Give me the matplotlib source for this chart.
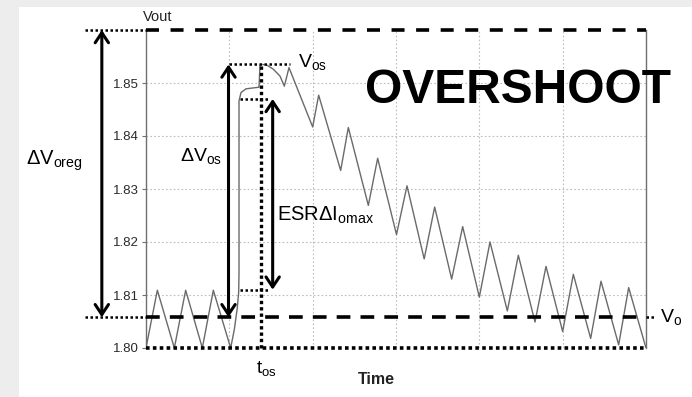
import matplotlib
matplotlib.use("Agg")
import matplotlib.pyplot as plt
from matplotlib.patches import Rectangle

plt.rcParams['font.family'] = ['Liberation Sans', 'DejaVu Sans']

# ── data ──────────────────────────────────────────────────────────────────────
t_wave = [0.0, 0.136, 0.340, 0.476, 0.676, 0.808, 1.016, 1.06, 1.095, 1.112, 1.116,
          1.116, 1.14, 1.20, 1.30, 1.356, 1.368, 1.392, 1.448, 1.528, 1.608, 1.660,
          1.716, 2.000, 2.072, 2.336, 2.428, 2.668, 2.780, 3.006, 3.132, 3.338,
          3.464, 3.668, 3.800, 4.000, 4.128, 4.336, 4.468, 4.668, 4.800, 5.000,
          5.128, 5.336, 5.460, 5.672, 5.792, 6.000]
v_wave = [1.8000, 1.8109, 1.8000, 1.8109, 1.8000, 1.8109, 1.8000, 1.8035, 1.8075,
          1.8105, 1.8140, 1.8466, 1.8482, 1.8489, 1.8491, 1.8492, 1.8534, 1.8535,
          1.8534, 1.8526, 1.8513, 1.8494, 1.8529, 1.8417, 1.8477, 1.8335, 1.8416,
          1.8269, 1.8358, 1.8214, 1.8306, 1.8168, 1.8266, 1.8130, 1.8229, 1.8096,
          1.8200, 1.8070, 1.8175, 1.8049, 1.8154, 1.8031, 1.8139, 1.8018, 1.8126,
          1.8006, 1.8114, 1.8000]

y_ticks = [1.80, 1.81, 1.82, 1.83, 1.84, 1.85]
x_grid = [1, 2, 3, 4, 5]

V_TOP = 1.86       # upper regulation limit
V_O = 1.8058       # nominal output
V_OS = 1.8535      # overshoot peak
V_ESR_TOP = 1.847
V_ESR_BOT = 1.811
T_OS = 1.38
T_START = 1.0

GRID = "#bdbdbd"
TRACE = "#6a6a6a"

fig = plt.figure(figsize=(6.92, 3.97), dpi=100, facecolor="#ededed")
fig.patches.append(Rectangle((19 / 692, 0), 1, 1 - 7 / 397, transform=fig.transFigure,
                             facecolor="white", edgecolor="none", zorder=-10))
ax = fig.add_axes([146 / 692, 1 - 348 / 397, 500 / 692, 318 / 397])
ax.set_facecolor("white")
ax.set_xlim(0, 6)
ax.set_ylim(1.80, 1.86)

for g in x_grid:
    ax.axvline(g, color=GRID, lw=0.8, ls=(0, (1.5, 2)), zorder=1)
for g in y_ticks[1:]:
    ax.axhline(g, color=GRID, lw=0.8, ls=(0, (1.5, 2)), zorder=1)

ax.plot(t_wave, v_wave, color=TRACE, lw=1.0, zorder=3)

# spines / ticks
for s in ("top", "bottom"):
    ax.spines[s].set_visible(False)
for s in ("left", "right"):
    ax.spines[s].set_color("#6f6f6f")
    ax.spines[s].set_linewidth(1.0)
ax.set_xticks([])
ax.set_yticks(y_ticks)
ax.set_yticklabels(["%.2f" % v for v in y_ticks], fontsize=9.5, color="#2a2a2a")
ax.tick_params(axis="y", length=3, color="#6f6f6f", pad=2)

# thick reference lines
ax.plot([0, 6], [V_TOP, V_TOP], color="black", lw=2.6, ls=(0, (3.6, 3.2)),
        clip_on=False, zorder=4, solid_capstyle="butt")
ax.plot([0, 6], [V_O, V_O], color="black", lw=2.6, ls=(0, (3.8, 2.8)),
        clip_on=False, zorder=4)
ax.plot([0, 6], [1.80, 1.80], color="black", lw=2.6, ls=(0, (1, 0.9)),
        clip_on=False, zorder=4)
ax.plot([T_OS, T_OS], [1.80, V_OS], color="black", lw=2.4, ls=(0, (1, 0.9)),
        clip_on=False, zorder=4)

# thin dotted extensions
dot = dict(color="black", lw=1.8, ls=(0, (1, 1)), clip_on=False, zorder=4)
ax.plot([-0.73, 0], [V_TOP, V_TOP], **dot)
ax.plot([-0.73, 0], [V_O, V_O], **dot)
ax.plot([6, 6.1], [V_O, V_O], **dot)
ax.plot([T_START, 1.73], [V_OS, V_OS], **dot)
ax.plot([1.13, 1.49], [V_ESR_TOP, V_ESR_TOP], **dot)
ax.plot([1.13, 1.49], [V_ESR_BOT, V_ESR_BOT], **dot)

# double arrows
arr = dict(arrowstyle="<->,head_length=0.45,head_width=0.3", lw=2.2, color="black",
           mutation_scale=16, shrinkA=0, shrinkB=0)
ax.annotate("", xy=(-0.53, V_TOP), xytext=(-0.53, V_O), arrowprops=arr,
            annotation_clip=False)
ax.annotate("", xy=(0.99, V_OS), xytext=(0.99, V_O), arrowprops=arr,
            annotation_clip=False)
ax.annotate("", xy=(1.52, V_ESR_TOP), xytext=(1.52, V_ESR_BOT), arrowprops=arr,
            annotation_clip=False)

# labels
txt = dict(clip_on=False, zorder=5)
ax.text(0.144, 1.8624, "Vout", fontsize=10.5, ha="center", va="center", color="#222222", **txt)
ax.text(2.76, 1.7940, "Time", fontsize=11.5, fontweight="bold", ha="center", va="center",
        color="#222222", **txt)
ax.text(1.45, 1.7962, r"$\mathregular{t_{os}}$", fontsize=13.5, ha="center", va="center", **txt)
ax.text(6.17, 1.8058, r"$\mathregular{V_{o}}$", fontsize=14, ha="left", va="center", **txt)
ax.text(1.82, 1.8540, r"$\mathregular{V_{os}}$", fontsize=14, ha="left", va="center", **txt)
ax.text(0.66, 1.8363, r"$\mathregular{\Delta V_{os}}$", fontsize=14, ha="center",
        va="center", **txt)
ax.text(-1.10, 1.8353, r"$\mathregular{\Delta V_{oreg}}$", fontsize=14.5, ha="center",
        va="center", **txt)
ax.text(1.57, 1.8250, r"$\mathregular{ESR\Delta I_{omax}}$", fontsize=14.5, ha="left",
        va="center", **txt)
ax.text(4.46, 1.8485, "OVERSHOOT", fontsize=34.5, fontweight="bold", ha="center",
        va="center", **txt)

plt.savefig("out.png", dpi=100)
